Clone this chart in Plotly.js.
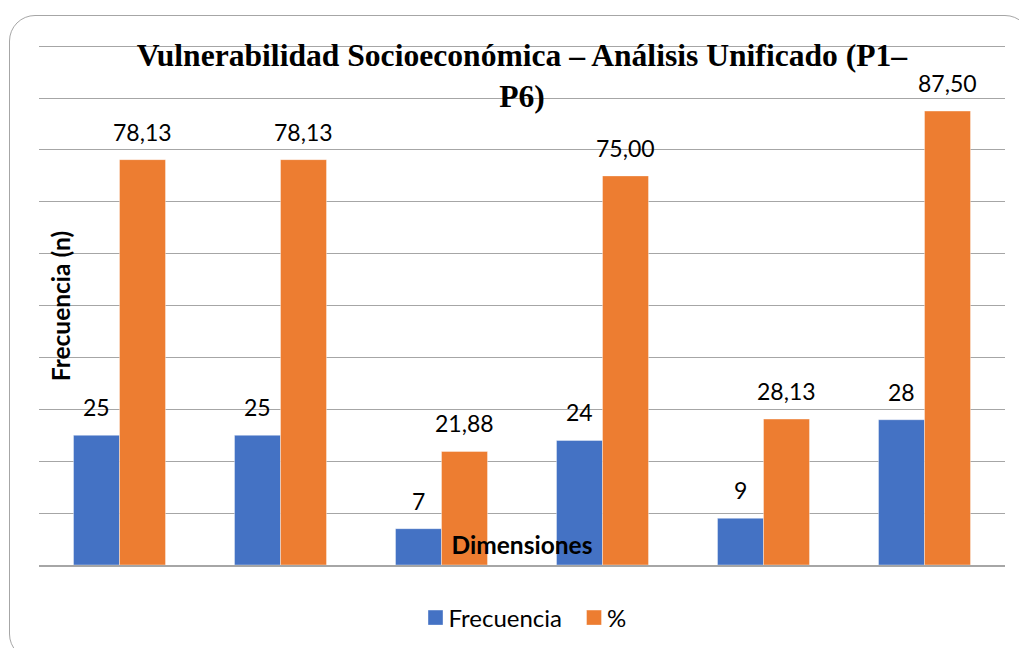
<!DOCTYPE html>
<html>
<head>
<meta charset="utf-8">
<script src="https://cdn.plot.ly/plotly-3.0.1.min.js"></script>
<style>
  html, body { margin: 0; padding: 0; background: #ffffff; overflow: hidden; }
  #wrap { position: relative; width: 1019px; height: 648px; }
  #frame { position: absolute; left: 9px; top: 15px; width: 1022px; height: 645px;
           border: 1.5px solid #a6a6a6; border-radius: 26px; box-sizing: border-box; }
  #chart { position: absolute; left: 0; top: 0; width: 1019px; height: 648px; }
</style>
</head>
<body>
<div id="wrap">
  <div id="frame"></div>
  <div id="chart"></div>
</div>
<script>
const categories = ["P1", "P2", "P3", "P4", "P5", "P6"];
const frecuencia = [25, 25, 7, 24, 9, 28];
const porcentaje = [78.13, 78.13, 21.88, 75.00, 28.13, 87.50];
const seriesNames = ["Frecuencia", "%"];
const titleText = "Vulnerabilidad Socioeconómica – Análisis Unificado (P1–<br>P6)";
const yTitle = "Frecuencia (n)";
const xTitle = "Dimensiones";

const fmt = v => v.toFixed(2).replace(".", ",");
const LABEL_FONT = { family: "Lato, 'Noto Sans', sans-serif", size: 23, color: "#000000" };

const traces = [
  { type: "bar", name: seriesNames[0], x: categories, y: frecuencia,
    marker: { color: "#4472C4", line: { color: "rgba(255,255,255,0.5)", width: 0.75 } },
    hoverinfo: "x+y" },
  { type: "bar", name: seriesNames[1], x: categories, y: porcentaje,
    marker: { color: "#ED7D31", line: { color: "rgba(255,255,255,0.5)", width: 0.75 } },
    hoverinfo: "x+y" }
];

const annotations = [];
categories.forEach((c, i) => {
  annotations.push({ x: c, y: frecuencia[i], xref: "x", yref: "y", text: String(frecuencia[i]),
    showarrow: false, xshift: -23, yshift: 12, yanchor: "bottom", font: LABEL_FONT });
  annotations.push({ x: c, y: porcentaje[i], xref: "x", yref: "y", text: fmt(porcentaje[i]),
    showarrow: false, xshift: 23, yshift: 12, yanchor: "bottom", font: LABEL_FONT });
});

const layout = {
  width: 1019, height: 648,
  margin: { l: 39, r: 14, t: 40.8, b: 83 },
  paper_bgcolor: "rgba(0,0,0,0)",
  plot_bgcolor: "rgba(0,0,0,0)",
  title: { text: "<b>" + titleText + "</b>", xref: "paper", x: 0.5, xanchor: "center",
           yref: "container", y: 1 - 66 / 648, yanchor: "top",
           font: { family: "'Liberation Serif', 'Times New Roman', serif", size: 31.6, color: "#000" } },
  barmode: "group",
  bargap: 0.4286,
  bargroupgap: 0,
  showlegend: true,
  legend: { orientation: "h", x: 527 / 1019, xanchor: "center", xref: "container", y: 1 - 618 / 648, yref: "container", yanchor: "middle",
            font: { family: "Lato, 'Noto Sans', sans-serif", size: 24, color: "#000" }, traceorder: "normal" },
  xaxis: { showticklabels: false, ticks: "", showgrid: false, zeroline: false,
           showline: true, linecolor: "#a6a6a6", linewidth: 1.5,
           title: { text: "<b>" + xTitle + "</b>", standoff: 0,
                    font: { family: "Lato, sans-serif", size: 24.5, color: "#000" } } },
  yaxis: { range: [0, 101], tick0: 0, dtick: 10, showticklabels: false, ticks: "", showgrid: true,
           gridcolor: "#a6a6a6", gridwidth: 1, zeroline: false, showline: false,
           title: { text: "<b>" + yTitle + "</b>", standoff: 0,
                    font: { family: "Lato, sans-serif", size: 24.5, color: "#000" } } },
  annotations: annotations,
  font: { family: "Lato, sans-serif" }
};

Plotly.newPlot("chart", traces, layout, { displayModeBar: false, staticPlot: true }).then(gd => {
  // Place axis titles where the reference draws them (overlapping the plot area)
  const xt = gd.querySelector(".g-xtitle text");
  if (xt) { xt.setAttribute("x", 522); xt.setAttribute("y", 554); xt.removeAttribute("transform"); }
  const yt = gd.querySelector(".g-ytitle text");
  if (yt) { yt.setAttribute("x", 61); yt.setAttribute("y", 306); yt.setAttribute("transform", "rotate(-90,61,306)"); yt.setAttribute("dy", "0.35em"); }
  // Slightly larger legend squares and tighter text spacing, like the reference
  gd.querySelectorAll(".legend .legendpoints path").forEach(p => {
    p.setAttribute("d", "M7.5,7.5H-7.5V-7.5H7.5Z");
  });
  gd.querySelectorAll(".legend text.legendtext").forEach(t => t.setAttribute("x", 33));
});
</script>
</body>
</html>
